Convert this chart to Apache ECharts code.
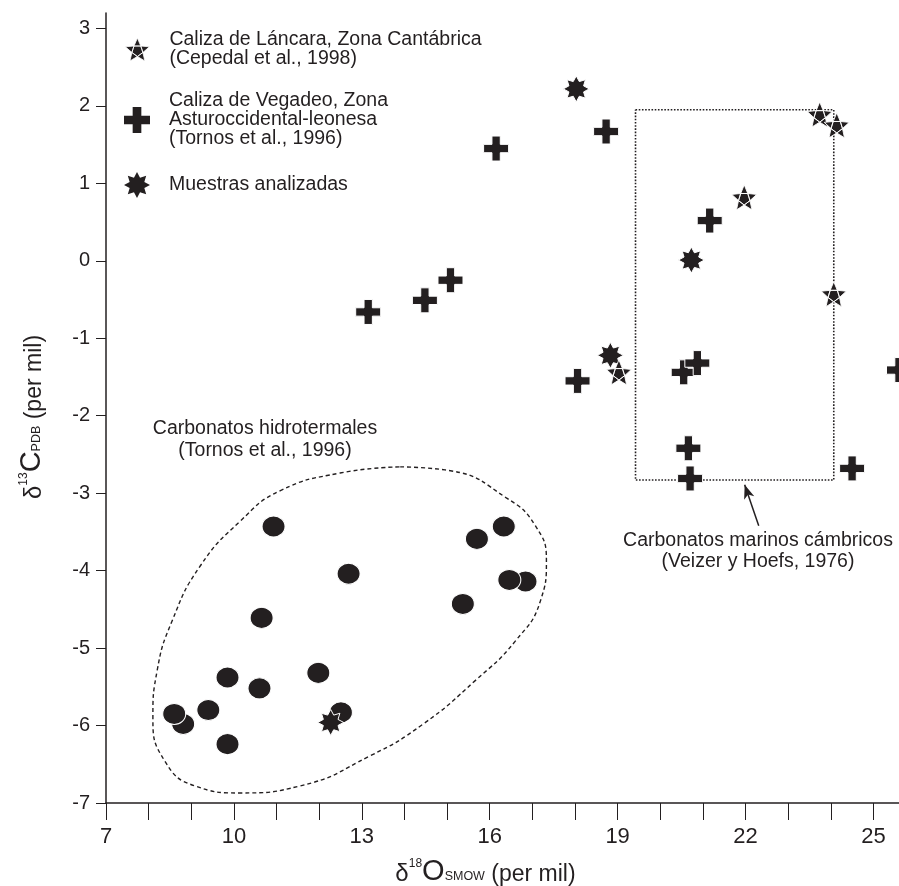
<!DOCTYPE html>
<html><head><meta charset="utf-8">
<script src="https://cdn.jsdelivr.net/npm/echarts@6/dist/echarts.min.js"></script>
<style>html,body{margin:0;padding:0;background:#fff}#c{width:899px;height:886px}</style>
</head><body><div id="c"></div>
<script>
// ---- data ----
const xTicks = [7,8,9,10,11,12,13,14,15,16,17,18,19,20,21,22,23,24,25];
const xTickLabels = [7,10,13,16,19,22,25];
const yTickLabels = [-7,-6,-5,-4,-3,-2,-1,0,1,2,3];

const cepedal = [[23.74,1.89],[24.14,1.75],[21.97,0.82],[24.07,-0.43],[19.03,-1.44]];
const vegadeo = [[13.15,-0.66],[14.48,-0.51],[15.08,-0.25],[16.15,1.45],[18.73,1.67],[18.06,-1.55],
  [21.16,0.52],[20.55,-1.44],[20.87,-1.32],[20.66,-2.42],[20.70,-2.81],[24.50,-2.68],[25.60,-1.41]];
const muestras = [[18.03,2.22],[20.73,0.01],[18.83,-1.22],[12.27,-5.96]];
const hidrotermales = [[10.93,-3.43],[12.69,-4.04],[10.65,-4.61],[15.70,-3.59],[16.33,-3.43],
  [16.84,-4.14],[16.46,-4.12],[15.37,-4.43],[9.85,-5.38],[10.60,-5.52],[11.98,-5.32],[9.40,-5.80],
  [8.81,-5.98],[8.60,-5.85],[9.85,-6.24],[12.51,-5.83]];
const hidroOutline = [[13.90,-2.66],[15.08,-2.71],[16.39,-3.06],[17.07,-3.42],[17.33,-3.87],[17.19,-4.39],
  [16.60,-4.91],[15.66,-5.42],[14.44,-5.98],[13.20,-6.39],[11.55,-6.78],[10.15,-6.87],[9.09,-6.78],
  [8.38,-6.46],[8.10,-5.90],[8.20,-5.29],[8.55,-4.65],[9.21,-3.94],[10.15,-3.36],[11.08,-2.97],
  [12.49,-2.74],[13.90,-2.66]];
const marinoBox = [[19.42,1.95],[24.07,1.95],[24.07,-2.83],[19.42,-2.83],[19.42,1.95]];
const marinoArrow = [[22.31,-3.42],[21.98,-2.89]];

const seriesNames = ['cepedal','vegadeo','muestras'];
const legendText = {
  cepedal: 'Caliza de Láncara, Zona Cantábrica\n(Cepedal et al., 1998)',
  vegadeo: 'Caliza de Vegadeo, Zona\nAsturoccidental-leonesa\n(Tornos et al., 1996)',
  muestras: 'Muestras analizadas'
};
const hidroLabel = 'Carbonatos hidrotermales\n(Tornos et al., 1996)';
const marinoLabel = 'Carbonatos marinos cámbricos\n(Veizer y Hoefs, 1976)';

// ---- symbol shapes ----
const INK = '#231f20';
function fmt(n){return n.toFixed(3);}
function poly(pts){return 'M'+pts.map(p=>fmt(p[0])+' '+fmt(p[1])).join(' L')+' Z';}
function starPieces(){
  const R=10, r=4.6, d=Math.PI/180, parts=[];
  const inner=[];
  for(let k=0;k<5;k++){const a=(-90+36+72*k)*d; inner.push([r*Math.cos(a), r*Math.sin(a)]);}
  parts.push(poly(inner));
  for(let k=0;k<5;k++){
    const a=(-90+72*k)*d, tip=[R*Math.cos(a),R*Math.sin(a)];
    parts.push(poly([tip, inner[(k+4)%5], inner[k]]));
  }
  return 'path://'+parts.join(' ');
}
function star8(){
  const R=10, r=6.1, pts=[];
  for(let k=0;k<16;k++){const a=(-90+22.5*k)*Math.PI/180, rr=k%2?r:R; pts.push([rr*Math.cos(a), rr*Math.sin(a)]);}
  return 'path://'+poly(pts);
}
const crossPath = 'path://M-1.5 -4.5 L1.5 -4.5 L1.5 -1.5 L4.5 -1.5 L4.5 1.5 L1.5 1.5 L1.5 4.5 L-1.5 4.5 L-1.5 1.5 L-4.5 1.5 L-4.5 -1.5 L-1.5 -1.5 Z';

const FONT = "'Liberation Sans', Arial, Helvetica, sans-serif";

const chart = echarts.init(document.getElementById('c'), null, {renderer:'canvas'});
const markerStyle = {color: INK, borderColor:'#fff', borderWidth:1, opacity:1};

function legendBox(name, top, size, bw){
  return {
    data:[name], orient:'vertical', left:137 - size/2, top:top, padding:0,
    itemWidth:size, itemHeight:size, selectedMode:false,
    itemStyle:{borderWidth:bw, borderColor:'#fff'},
    formatter: n => legendText[n],
    textStyle:{fontFamily:FONT, fontSize:19.5, lineHeight:19, color:INK, padding:[0,0,0,27 - size/2]}
  };
}
const titleRich = {
  d:{fontSize:24, fontFamily:FONT, color:INK, lineHeight:30, verticalAlign:'bottom'},
  sup:{fontSize:12, fontFamily:FONT, color:INK, lineHeight:30, verticalAlign:'top', padding:[2,0,0,0]},
  big:{fontSize:29, fontFamily:FONT, color:INK, lineHeight:30, verticalAlign:'bottom'},
  sub:{fontSize:12.5, fontFamily:FONT, color:INK, lineHeight:30, verticalAlign:'bottom', padding:[0,0,3,0]},
  n:{fontSize:23, fontFamily:FONT, color:INK, lineHeight:30, verticalAlign:'bottom'}
};

chart.setOption({
  animation:false,
  backgroundColor:'#fff',
  grid:{left:106, right:0, top:13, bottom:83, containLabel:false, outerBoundsMode:'none'},
  legend:[ legendBox('cepedal', 30, 24, 0.8), legendBox('vegadeo', 91, 26, 0), legendBox('muestras', 172, 26, 0) ],
  xAxis:{
    type:'value', min:7, max:25.6, interval:1,
    axisLine:{show:true, onZero:false, lineStyle:{color:INK, width:1.5}},
    axisTick:{show:true, length:17, customValues:xTicks, lineStyle:{color:INK, width:1}},
    axisLabel:{customValues:xTickLabels, margin:23, color:INK, fontFamily:FONT, fontSize:22,
      formatter: v => xTickLabels.includes(v) ? String(v) : ''},
    splitLine:{show:false},
    name:'{d|δ}{sup|18}{big|O}{sub|SMOW}{n| (per mil)}', nameLocation:'middle', nameGap:53,
    nameTextStyle:{color:INK, fontFamily:FONT, padding:[0,34,0,0], rich:titleRich}
  },
  yAxis:{
    type:'value', min:-7, max:3.2, interval:1,
    axisLine:{show:true, onZero:false, lineStyle:{color:INK, width:1.5}},
    axisTick:{show:true, length:10, customValues:yTickLabels, lineStyle:{color:INK, width:1}},
    axisLabel:{customValues:yTickLabels, margin:16, color:INK, fontFamily:FONT, fontSize:20,
      formatter: v => yTickLabels.includes(v) ? String(v) : ''},
    splitLine:{show:false},
    name:'{d|δ}{sup|13}{big|C}{sub|PDB}{n| (per mil)}', nameLocation:'middle', nameGap:60, nameRotate:90,
    nameTextStyle:{color:INK, fontFamily:FONT, padding:[0,18,0,0], rich:titleRich}
  },
  graphic:[
    {type:'text', x:265, y:418, style:{text:hidroLabel, align:'center', verticalAlign:'top', lineHeight:22,
      fontFamily:FONT, fontSize:19.5, fill:INK}},
    {type:'text', x:758, y:530, style:{text:marinoLabel, align:'center', verticalAlign:'top', lineHeight:21,
      fontFamily:FONT, fontSize:19.5, fill:INK}}
  ],
  series:[
    {type:'line', name:'outline', data:hidroOutline, smooth:0.5, showSymbol:false, silent:true, z:1,
      lineStyle:{color:INK, width:1.4, type:[4,3]}},
    {type:'line', name:'box', data:marinoBox, smooth:false, showSymbol:false, silent:true, z:1,
      lineStyle:{color:INK, width:1.6, type:[1.6,1.6]},
      markLine:{silent:true, symbol:['none','arrow'], symbolSize:[8,14], label:{show:false},
        lineStyle:{color:INK, width:1.5, type:'solid'},
        data:[[{coord:marinoArrow[0]},{coord:marinoArrow[1]}]]}},
    {type:'scatter', name:'hidrotermales', data:hidrotermales, symbol:'circle', symbolSize:[23,21], z:2,
      itemStyle:markerStyle},
    {type:'scatter', name:'vegadeo', data:vegadeo, symbol:crossPath, symbolSize:25, z:3, itemStyle:markerStyle},
    {type:'scatter', name:'muestras', data:muestras, symbol:star8(), symbolSize:26, z:4, itemStyle:markerStyle},
    {type:'scatter', name:'cepedal', data:cepedal, symbol:starPieces(), symbolSize:[25,25], z:5,
      itemStyle:{color:INK, borderColor:'#fff', borderWidth:0.9, opacity:1}}
  ]
});
</script></body></html>
